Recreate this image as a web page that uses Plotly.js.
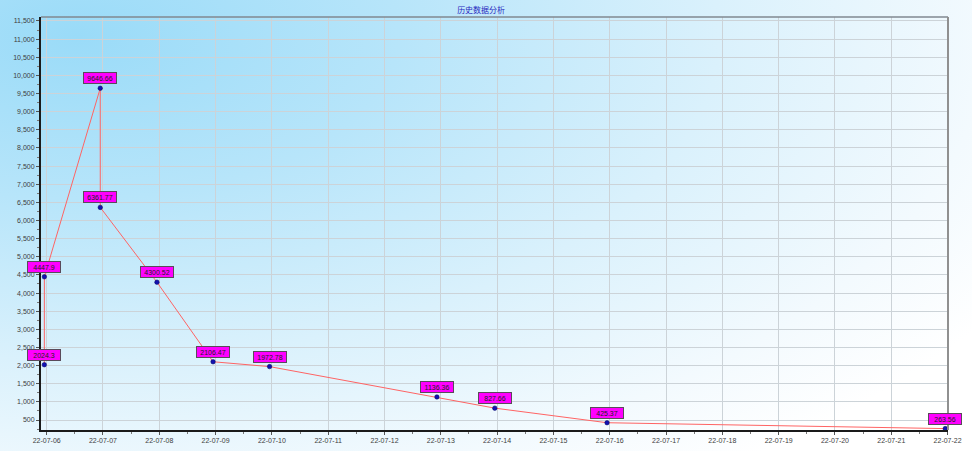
<!DOCTYPE html>
<html>
<head>
<meta charset="utf-8">
<script src="https://cdn.plot.ly/plotly-3.0.1.min.js"></script>
<style>
html,body{margin:0;padding:0;}
#chart{width:972px;height:451px;
background: radial-gradient(ellipse 110% 120% at 8% 8%, #9adbf8 0%, #b7e5fa 30%, #daf1fc 60%, #f3fafe 85%, #ffffff 100%);}
</style>
</head>
<body>
<div id="chart"></div>
<script>
var times = ["2022-07-05 23:00","2022-07-05 23:01","2022-07-06 22:50","2022-07-06 22:51","2022-07-07 23:00","2022-07-08 22:55","2022-07-09 23:00","2022-07-12 22:20","2022-07-13 23:00","2022-07-15 22:50","2022-07-21 23:00"];
var values = [2024.3, 4447.9, 9646.66, 6361.77, 4300.52, 2106.47, 1972.78, 1136.36, 827.66, 425.37, 263.56];
var labels = ["2024.3","4447.9","9646.66","6361.77","4300.52","2106.47","1972.78","1136.36","827.66","425.37","263.56"];
var chartTitle = "历史数据分析";

var annotations = times.map(function(t,i){
  return {x:t, y:values[i], xref:'x', yref:'y', text:labels[i], showarrow:false,
    yanchor:'bottom', yshift:4, width:30, height:8,
    bgcolor:'#ff00ff', bordercolor:'#5a4a5a', borderwidth:1, borderpad:1,
    font:{family:'Liberation Sans, Arial', size:7, color:'#202020'}};
});

var trace = {x:times, y:values, type:'scatter', mode:'lines+markers',
  line:{color:'#ff6464', width:1},
  marker:{color:'#1212b0', size:4.5, line:{color:'#000060', width:0.5}},
  hoverinfo:'x+y'};

var layout = {
  width:972, height:451,
  margin:{l:41, r:24, t:17, b:21},
  paper_bgcolor:'rgba(0,0,0,0)', plot_bgcolor:'rgba(0,0,0,0)',
  showlegend:false,
  title:{text:chartTitle, x:0.495, xanchor:'center', y:0.978, yanchor:'middle',
    font:{family:'Noto Sans CJK SC', size:8, color:'#2a2ac0'}},
  xaxis:{type:'date', range:['2022-07-05 21:35','2022-07-22 00:10'],
    tick0:'2022-07-06', dtick:86400000, tickformat:'%y-%m-%d',
    showgrid:true, gridcolor:'#ccd3d8', gridwidth:1,
    showline:true, linecolor:'#1a1a1a', linewidth:2,
    ticks:'outside', ticklen:3, tickcolor:'#555',
    minor:{dtick:43200000, ticklen:2, tickcolor:'#777', showgrid:false},
    tickfont:{family:'Liberation Sans, Arial', size:7, color:'#404040'},
    zeroline:false, fixedrange:true},
  yaxis:{range:[225, 11610], tick0:500, dtick:500, tickformat:',d',
    showgrid:true, gridcolor:'#ccd3d8', gridwidth:1,
    showline:true, linecolor:'#1a1a1a', linewidth:2,
    ticks:'outside', ticklen:3, tickcolor:'#555',
    minor:{dtick:250, ticklen:2, tickcolor:'#777', showgrid:false},
    tickfont:{family:'Liberation Sans, Arial', size:7, color:'#404040'},
    zeroline:false, fixedrange:true},
  shapes:[
    {type:'line', xref:'paper', yref:'paper', x0:0, x1:1, y0:1, y1:1, line:{color:'#808890', width:1.5}},
    {type:'line', xref:'paper', yref:'paper', x0:1, x1:1, y0:0, y1:1, line:{color:'#909090', width:2}}
  ],
  annotations:annotations
};

Plotly.newPlot('chart', [trace], layout, {displayModeBar:false, staticPlot:true});
</script>
</body>
</html>
